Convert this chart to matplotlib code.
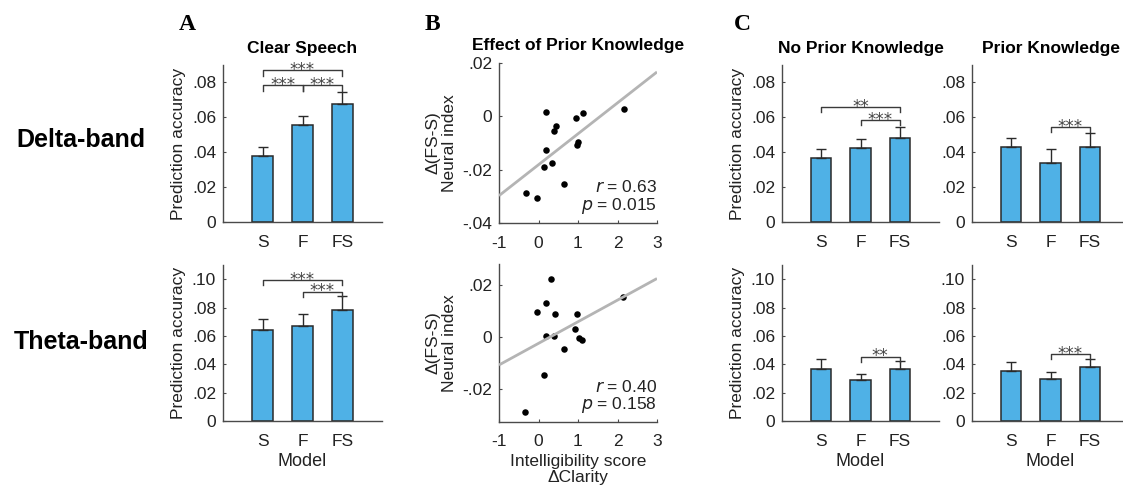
import numpy as np
import matplotlib
matplotlib.use("Agg")
import matplotlib.pyplot as plt
from matplotlib.ticker import FuncFormatter

plt.rcParams['font.family'] = ['Liberation Sans', 'DejaVu Sans']
plt.rcParams['font.size'] = 12
plt.rcParams['axes.unicode_minus'] = False

MODELS = ["S", "F", "FS"]

# prediction accuracy (mean, s.e.m.) per model
delta_clear = [0.0378, 0.0554, 0.0678]
delta_clear_err = [0.0052, 0.0053, 0.0067]
theta_clear = [0.0642, 0.0672, 0.0782]
theta_clear_err = [0.0079, 0.0086, 0.0096]

delta_noprior = [0.0369, 0.0423, 0.0483]
delta_noprior_err = [0.0051, 0.0053, 0.0062]
delta_prior = [0.0429, 0.0341, 0.0429]
delta_prior_err = [0.0054, 0.0080, 0.0080]

theta_noprior = [0.0368, 0.0288, 0.0368]
theta_noprior_err = [0.0068, 0.0040, 0.0058]
theta_prior = [0.0356, 0.0295, 0.0379]
theta_prior_err = [0.0063, 0.0049, 0.0059]

# significance brackets: (from, to, height, stars)
sig_delta_clear = [(0, 2, 0.0869, "***"), (0, 1, 0.0783, "***"), (1, 2, 0.0783, "***")]
sig_theta_clear = [(0, 2, 0.0995, "***"), (1, 2, 0.0913, "***")]
sig_delta_noprior = [(0, 2, 0.0659, "**"), (1, 2, 0.0585, "***")]
sig_delta_prior = [(1, 2, 0.0546, "***")]
sig_theta_noprior = [(1, 2, 0.0454, "**")]
sig_theta_prior = [(1, 2, 0.0473, "***")]

# per-subject clarity gain vs neural index change
clarity_delta = [0.19, 0.44, 0.40, 0.19, 0.14, 0.34, -0.32, -0.03, 0.65, 0.94, 1.13, 1.01, 0.97, 2.17]
index_delta = [0.0015, -0.0038, -0.0054, -0.0128, -0.0191, -0.0176, -0.0286, -0.0308,
               -0.0253, -0.0005, 0.0014, -0.0097, -0.0109, 0.0028]
clarity_theta = [0.31, 0.18, -0.03, 0.42, 0.97, 0.18, 0.40, 0.92, 1.02, 1.10, 0.64, 0.13, -0.33, 2.14]
index_theta = [0.0222, 0.0132, 0.0096, 0.0090, 0.0090, 0.0005, 0.0005, 0.0031,
               -0.0005, -0.0010, -0.0045, -0.0146, -0.0287, 0.0154]
stats_delta = ("0.63", "0.015")
stats_theta = ("0.40", "0.158")

BAR_COLOR = "#4FB1E6"
AX_COLOR = "#4a4a4a"
TXT_COLOR = "#222222"


def matlab_fmt(v, pos):
    if abs(v) < 1e-9:
        return "0"
    s = f"{v:.2f}"
    return s.replace("0.", ".")


def style_axes(ax):
    for side in ("top", "right"):
        ax.spines[side].set_visible(False)
    for side in ("left", "bottom"):
        ax.spines[side].set_color(AX_COLOR)
        ax.spines[side].set_linewidth(1.0)
    ax.tick_params(direction="in", length=2.5, width=0.8, color=AX_COLOR,
                   labelcolor=TXT_COLOR, labelsize=12.5, pad=5)
    ax.tick_params(axis="x", pad=9)


def bar_panel(ax, vals, errs, sigs, ymax, ylabel=True, xlabel=False):
    x = np.arange(1, len(vals) + 1)
    ax.bar(x, vals, width=0.52, color=BAR_COLOR, edgecolor="#2a2a2a", linewidth=1.1, zorder=2)
    ax.errorbar(x, vals, yerr=[np.zeros(len(errs)), errs], fmt="none", ecolor="#2a2a2a",
                elinewidth=1.0, capsize=3.5, capthick=1.0, zorder=3)
    leg = 0.033 * ymax
    for i, j, h, stars in sigs:
        xi, xj = x[i], x[j]
        ax.plot([xi, xi, xj, xj], [h - leg, h, h, h - leg], color="#3a3a3a", lw=1.0, zorder=4)
        ax.annotate(stars, xy=((xi + xj) / 2, h), xytext=(0, -3.5), textcoords="offset points",
                    ha="center", va="baseline", fontsize=12, color="#444444",
                    family="DejaVu Sans")
    ax.set_xlim(0, 4)
    ax.set_ylim(0, ymax)
    ax.set_xticks(x)
    ax.set_xticklabels(MODELS)
    ax.set_yticks(np.arange(0, ymax - 0.005, 0.02))
    ax.yaxis.set_major_formatter(FuncFormatter(matlab_fmt))
    style_axes(ax)
    if ylabel:
        ax.set_ylabel("Prediction accuracy", fontsize=12.5, color=TXT_COLOR, labelpad=4)
    if xlabel:
        ax.set_xlabel("Model", fontsize=13, color=TXT_COLOR, labelpad=3)


def scatter_panel(ax, xs, ys, stats, ylim, yticks, xlabel=False):
    xs = np.array(xs)
    ys = np.array(ys)
    ax.scatter(xs, ys, s=22, color="black", zorder=2, linewidths=0)
    slope, icpt = np.polyfit(xs, ys, 1)
    xl = np.array([-1, 3])
    ax.plot(xl, icpt + slope * xl, color="#b4b4b4", lw=2.0, zorder=3, solid_capstyle="butt")
    ax.set_xlim(-1, 3)
    ax.set_ylim(*ylim)
    ax.set_xticks([-1, 0, 1, 2, 3])
    ax.set_yticks(yticks)
    ax.yaxis.set_major_formatter(FuncFormatter(matlab_fmt))
    style_axes(ax)
    ax.set_ylabel("\u0394(FS-S)\nNeural index", fontsize=12.5, color=TXT_COLOR, labelpad=4,
                  linespacing=1.1)
    r, p = stats
    tr = ax.transAxes
    ax.text(1.0, 0.222, f"$\\it{{r}}$ = {r}", transform=tr,
            ha="right", va="center", fontsize=12.5, color=TXT_COLOR)
    ax.text(1.0, 0.106, f"$\\it{{p}}$ = {p}", transform=tr,
            ha="right", va="center", fontsize=12.5, color=TXT_COLOR)
    if xlabel:
        ax.set_xlabel("Intelligibility score\n\u0394Clarity", fontsize=12.5, color=TXT_COLOR,
                      labelpad=3, linespacing=1.1)


fig = plt.figure(figsize=(11.23, 4.91), dpi=100)
W, H = 1123.0, 491.0


def axes_px(left, top, right, bottom):
    return fig.add_axes([left / W, 1 - bottom / H, (right - left) / W, (bottom - top) / H])


ax_a1 = axes_px(223, 65, 382, 222)
ax_a2 = axes_px(223, 265, 382, 421)
ax_b1 = axes_px(499, 63, 657, 223)
ax_b2 = axes_px(499, 264, 657, 422)
ax_c1 = axes_px(782, 65, 939, 222)
ax_c2 = axes_px(782, 265, 939, 421)
ax_d1 = axes_px(972, 65, 1129, 222)
ax_d2 = axes_px(972, 265, 1129, 421)

bar_panel(ax_a1, delta_clear, delta_clear_err, sig_delta_clear, 0.09)
bar_panel(ax_a2, theta_clear, theta_clear_err, sig_theta_clear, 0.11, xlabel=True)
bar_panel(ax_c1, delta_noprior, delta_noprior_err, sig_delta_noprior, 0.09)
bar_panel(ax_c2, theta_noprior, theta_noprior_err, sig_theta_noprior, 0.11, xlabel=True)
bar_panel(ax_d1, delta_prior, delta_prior_err, sig_delta_prior, 0.09, ylabel=False)
bar_panel(ax_d2, theta_prior, theta_prior_err, sig_theta_prior, 0.11, ylabel=False, xlabel=True)

scatter_panel(ax_b1, clarity_delta, index_delta, stats_delta, (-0.04, 0.02), [-0.04, -0.02, 0, 0.02])
scatter_panel(ax_b2, clarity_theta, index_theta, stats_theta, (-0.0325, 0.028), [-0.02, 0, 0.02],
              xlabel=True)

ax_a1.set_title("Clear Speech", fontsize=12.5, fontweight="bold", pad=9)
ax_b1.set_title("Effect of Prior Knowledge", fontsize=12.5, fontweight="bold", pad=9)
ax_c1.set_title("No Prior Knowledge", fontsize=12.5, fontweight="bold", pad=9)
ax_d1.set_title("Prior Knowledge", fontsize=12.5, fontweight="bold", pad=9)

for letter, px in (("A", 187), ("B", 432), ("C", 742)):
    fig.text(px / W, 1 - 25 / H, letter, ha="center", va="center", fontsize=17,
             fontweight="bold", family="Liberation Serif")

fig.text(81 / W, 1 - 140 / H, "Delta-band", ha="center", va="center", fontsize=18, fontweight="bold")
fig.text(81 / W, 1 - 342 / H, "Theta-band", ha="center", va="center", fontsize=18, fontweight="bold")

fig.savefig("out.png", dpi=100)
